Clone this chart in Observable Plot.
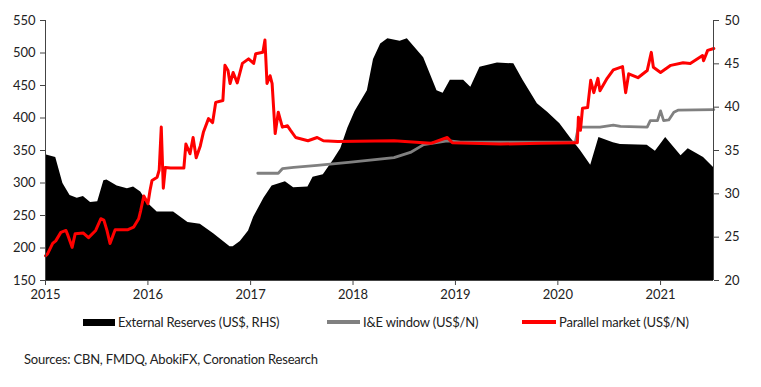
<!DOCTYPE html>
<html>
<head>
<meta charset="utf-8">
<script src="https://cdn.jsdelivr.net/npm/d3@7"></script>
<script src="https://cdn.jsdelivr.net/npm/@observablehq/plot@0.6"></script>
<style>
  html, body { margin: 0; padding: 0; background: #fff; overflow: hidden; }
  #wrap { position: relative; width: 761px; height: 387px; font-family: Lato, "Open Sans", sans-serif; color: #222; }
  #chart { position: absolute; left: 0; top: 0; }
  .leg { position: absolute; top: 313px; height: 18px; display: flex; align-items: center; font-size: 13px; letter-spacing: -0.2px; white-space: nowrap; }
  .sw { display: inline-block; margin-right: 3px; }
  #src { position: absolute; left: 24px; top: 351px; font-size: 13px; letter-spacing: -0.2px; white-space: nowrap; }
</style>
</head>
<body>
<div id="wrap">
  <div id="chart"></div>
  <div class="leg" style="left:83px"><span class="sw" style="width:32px;height:7px;background:#000"></span>External Reserves (US$, RHS)</div>
  <div class="leg" style="left:327px"><span class="sw" style="width:33px;height:4px;background:#808080"></span>I&amp;E window (US$/N)</div>
  <div class="leg" style="left:522px"><span class="sw" style="width:34px;height:4px;background:#ff0000"></span>Parallel market (US$/N)</div>
  <div id="src">Sources: CBN, FMDQ, AbokiFX, Coronation Research</div>
</div>
<script>
// Decimal-year dates and values
const reservesYears = [2015.00,2015.10,2015.17,2015.24,2015.31,2015.37,2015.44,2015.51,2015.57,2015.60,2015.70,2015.80,2015.86,2015.93,2016.00,2016.09,2016.25,2016.39,2016.51,2016.64,2016.80,2016.83,2016.90,2016.98,2017.03,2017.13,2017.21,2017.34,2017.42,2017.56,2017.61,2017.71,2017.81,2017.88,2017.95,2018.02,2018.14,2018.20,2018.27,2018.34,2018.46,2018.53,2018.69,2018.82,2018.88,2018.95,2019.08,2019.15,2019.24,2019.41,2019.57,2019.66,2019.80,2019.90,2020.02,2020.12,2020.22,2020.32,2020.40,2020.54,2020.61,2020.87,2020.95,2021.05,2021.20,2021.27,2021.42,2021.52];
const reservesValues = [34.5,34.2,31.2,29.8,29.5,29.7,29.0,29.1,31.5,31.6,30.9,30.6,30.8,30.2,28.9,27.9,27.9,26.7,26.5,25.4,23.9,23.9,24.5,25.7,27.3,29.5,30.9,31.4,30.7,30.8,31.9,32.2,33.9,35.2,37.6,39.5,41.9,45.5,47.3,47.9,47.6,47.9,45.7,41.9,41.6,43.1,43.1,42.3,44.6,45.1,45.0,43.1,40.4,39.4,38.1,36.5,35.0,33.3,36.5,35.9,35.7,35.6,34.9,36.5,34.4,35.2,34.2,33.0];

const ieYears = [2017.07,2017.27,2017.31,2017.42,2017.65,2017.98,2018.40,2018.56,2018.69,2018.92,2019.05,2020.17,2020.20,2020.41,2020.54,2020.61,2020.87,2020.90,2020.97,2021.00,2021.03,2021.08,2021.13,2021.17,2021.52];
const ieValues = [315,315,322,324,327,332,339,347,359,365,363,363,386,386,389,387,386,396,396,411,396,397,409,412,413];

const parallelYears = [2015.00,2015.02,2015.07,2015.10,2015.15,2015.20,2015.22,2015.26,2015.29,2015.37,2015.42,2015.49,2015.54,2015.57,2015.60,2015.63,2015.68,2015.80,2015.86,2015.91,2015.93,2015.96,2016.00,2016.02,2016.04,2016.09,2016.11,2016.13,2016.15,2016.17,2016.22,2016.35,2016.37,2016.41,2016.44,2016.47,2016.51,2016.54,2016.59,2016.63,2016.66,2016.73,2016.75,2016.78,2016.80,2016.83,2016.87,2016.92,2016.98,2017.03,2017.05,2017.12,2017.14,2017.16,2017.19,2017.21,2017.24,2017.27,2017.31,2017.36,2017.39,2017.44,2017.56,2017.65,2017.71,2017.85,2018.40,2018.76,2018.92,2018.97,2019.44,2019.83,2020.17,2020.19,2020.20,2020.22,2020.24,2020.29,2020.32,2020.35,2020.39,2020.41,2020.48,2020.54,2020.63,2020.66,2020.69,2020.78,2020.87,2020.91,2020.93,2021.00,2021.10,2021.22,2021.29,2021.41,2021.42,2021.46,2021.52];
const parallelValues = [188,191,207,211,224,227,219,201,222,223,216,227,245,243,227,207,228,228,232,245,258,280,268,288,304,309,320,386,292,324,323,323,360,345,370,339,357,378,399,393,424,427,481,473,453,470,454,484,491,484,499,501,520,453,465,453,376,409,386,388,381,370,365,370,365,364,365,361,370,362,360,361,362,362,401,381,415,416,458,439,461,442,461,474,479,439,468,462,473,501,478,470,481,485,484,496,488,504,507];

const leftTicks = [150,200,250,300,350,400,450,500,550];
const rightTicks = [20,25,30,35,40,45,50];

const toDate = y => { const yr = Math.floor(y); const s = Date.UTC(yr,0,1), e = Date.UTC(yr+1,0,1); return new Date(s + (y-yr)*(e-s)); };
// right axis (20..50) mapped onto left axis (150..550)
const r2l = r => 150 + (r - 20) * 400 / 30;

const reserves = reservesYears.map((y,i) => ({date: toDate(y), v: r2l(reservesValues[i])}));
const ie = ieYears.map((y,i) => ({date: toDate(y), v: ieValues[i]}));
const parallel = parallelYears.map((y,i) => ({date: toDate(y), v: parallelValues[i]}));

const x0 = toDate(2015.0), x1 = toDate(2021.517);
const axisColor = "#444";

const chart = Plot.plot({
  width: 761, height: 305,
  marginLeft: 45, marginRight: 48, marginTop: 20, marginBottom: 25,
  style: {fontFamily: "Lato, 'Open Sans', sans-serif", fontSize: "13px", color: "#222", background: "transparent"},
  x: {type: "utc", domain: [x0, x1]},
  y: {domain: [150, 550]},
  marks: [
    Plot.areaY(reserves, {x: "date", y1: 150, y2: "v", fill: "#000", curve: "linear"}),
    Plot.lineY(ie, {x: "date", y: "v", stroke: "#808080", strokeWidth: 2.8, curve: "linear"}),
    Plot.lineY(parallel, {x: "date", y: "v", stroke: "#ff0000", strokeWidth: 3, curve: "linear"}),
    Plot.ruleX([x0], {stroke: axisColor}),
    Plot.ruleX([x1], {stroke: axisColor}),
    Plot.ruleY([150], {stroke: axisColor}),
    Plot.axisY(leftTicks, {anchor: "left", tickSize: 5, tickPadding: 5, stroke: axisColor, fontSize: 13, label: null}),
    Plot.axisY(rightTicks.map(r2l), {anchor: "right", tickSize: 5, tickPadding: 6, stroke: axisColor, fontSize: 13, label: null, tickFormat: d => String(Math.round(20 + (d - 150) * 30 / 400))}),
    Plot.axisX(d3.utcYears(toDate(2015), toDate(2021.9)), {tickSize: 5, tickPadding: 4, stroke: axisColor, fontSize: 13, label: null, tickFormat: d3.utcFormat("%Y")})
  ]
});
document.getElementById("chart").appendChild(chart);
</script>
</body>
</html>
